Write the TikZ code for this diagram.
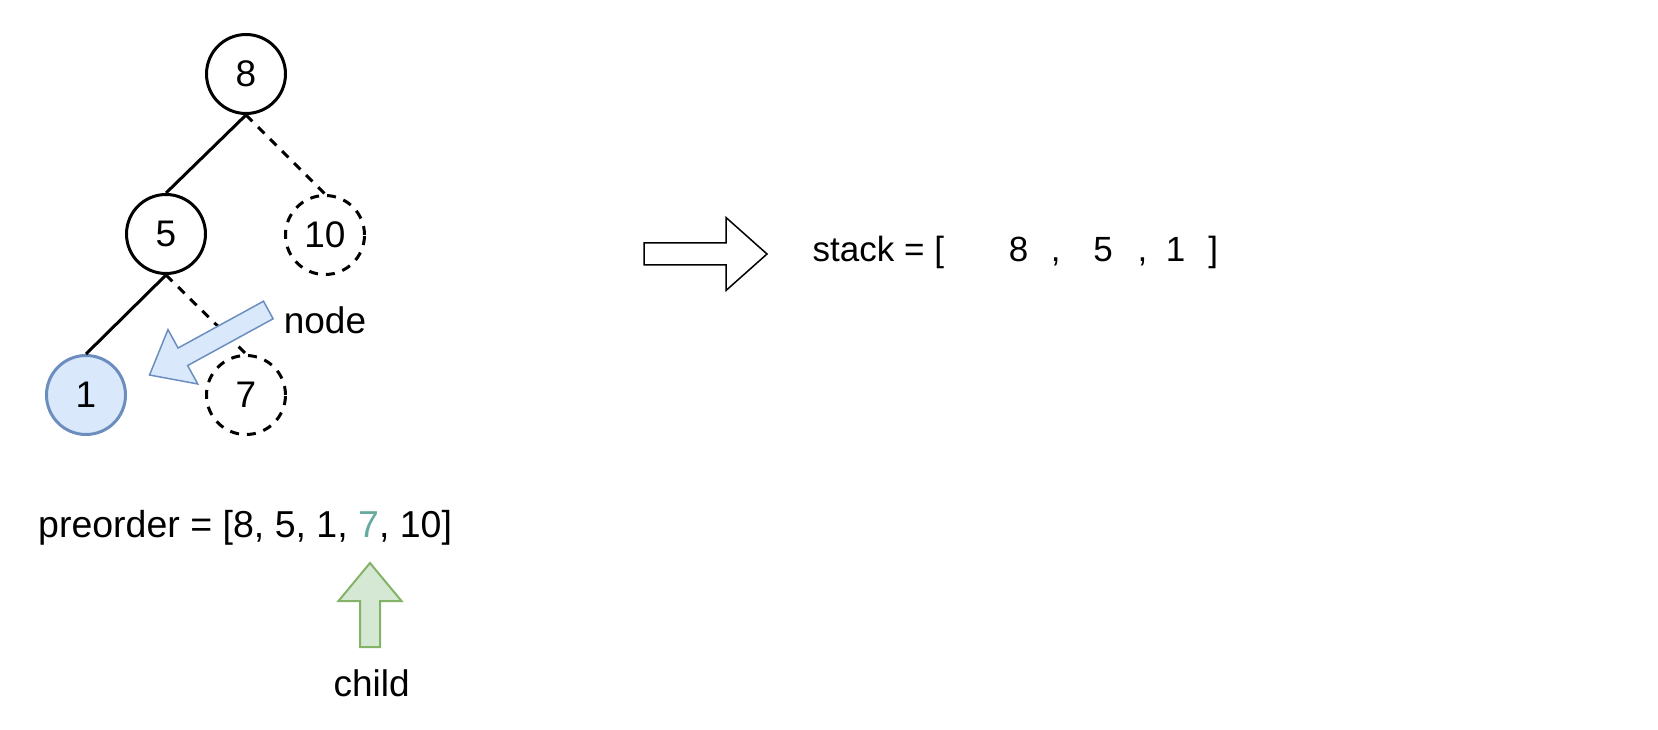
\documentclass[tikz,border=0pt]{standalone}
\usepackage{fontspec}
\setmainfont{Liberation Sans}
\definecolor{bluefill}{HTML}{DAE8FC}
\definecolor{bluestroke}{HTML}{6C8EBF}
\definecolor{greenfill}{HTML}{D5E8D4}
\definecolor{greenstroke}{HTML}{82B366}
\definecolor{tealseven}{HTML}{67AB9F}
\begin{document}
\begin{tikzpicture}[x=1pt,y=-1pt,
  tnode/.style={circle,draw=black,line width=3pt,minimum size=79pt,inner sep=0pt,font=\fontsize{37}{44}\selectfont},
  dnode/.style={tnode,dash pattern=on 9pt off 8pt},
  hnode/.style={tnode,draw=bluestroke,fill=bluefill},
  tedge/.style={line width=3pt},
  dedge/.style={tedge,dash pattern=on 9pt off 8pt},
  lbl/.style={font=\fontsize{37}{44}\selectfont,inner sep=0pt},
  blockarrow/.style={line width=1.5pt,line join=miter}]
\useasboundingbox (0,0) rectangle (1658,730);

% tree
\node[tnode] (n8) at (246,74) {8};
\node[tnode] (n5) at (166,234) {5};
\node[dnode] (n10) at (325,235) {10};
\node[hnode] (n1) at (86,395) {1};
\node[dnode] (n7) at (246,395) {7};

\draw[tedge] (n8.south) -- (n5.north);
\draw[dedge] (n8.south) -- (n10.north);
\draw[tedge] (n5.south) -- (n1.north);
\draw[dedge] (n5.south) -- (n7.north);

% blue "node" arrow
\begin{scope}[shift={(268.3,310)},rotate=208.7]
  \draw[blockarrow,draw=bluestroke,fill=bluefill]
    (0,-10) -- (97.4,-10) -- (97.4,-31) -- (135.4,0) -- (97.4,31) -- (97.4,10) -- (0,10) -- cycle;
\end{scope}
\node[lbl,anchor=base] (nodelbl) at (325,333) {node};

% preorder
\node[anchor=base west,inner sep=0pt,font=\fontsize{37.5}{44}\selectfont] (preorder) at (38,537)
  {preorder = [8, 5, 1, \textcolor{tealseven}{7}, 10]};

% green "child" arrow
\draw[blockarrow,line width=2pt,draw=greenstroke,fill=greenfill]
  (360,647) -- (360,601) -- (338.5,601) -- (370,563) -- (401.5,601) -- (380,601) -- (380,647) -- cycle;
\node[lbl,anchor=base] (childlbl) at (371.7,696.7) {child};

% hollow arrow
\draw[blockarrow,draw=black,fill=white]
  (644,243) -- (726,243) -- (726,217.5) -- (767,254) -- (726,290.5) -- (726,265) -- (644,265) -- cycle;

% stack
\node[anchor=base west,inner sep=0pt,font=\fontsize{35}{42}\selectfont] (stack) at (812,261.7)
  {\makebox[0pt][l]{stack = [}%
   \makebox[0pt][l]{\hspace*{206pt}\makebox[0pt]{8}}%
   \makebox[0pt][l]{\hspace*{243pt}\makebox[0pt]{,}}%
   \makebox[0pt][l]{\hspace*{290.5pt}\makebox[0pt]{5}}%
   \makebox[0pt][l]{\hspace*{329.7pt}\makebox[0pt]{,}}%
   \makebox[0pt][l]{\hspace*{363pt}\makebox[0pt]{1}}%
   \makebox[0pt][l]{\hspace*{400.5pt}\makebox[0pt]{]}}};
\end{tikzpicture}
\end{document}
